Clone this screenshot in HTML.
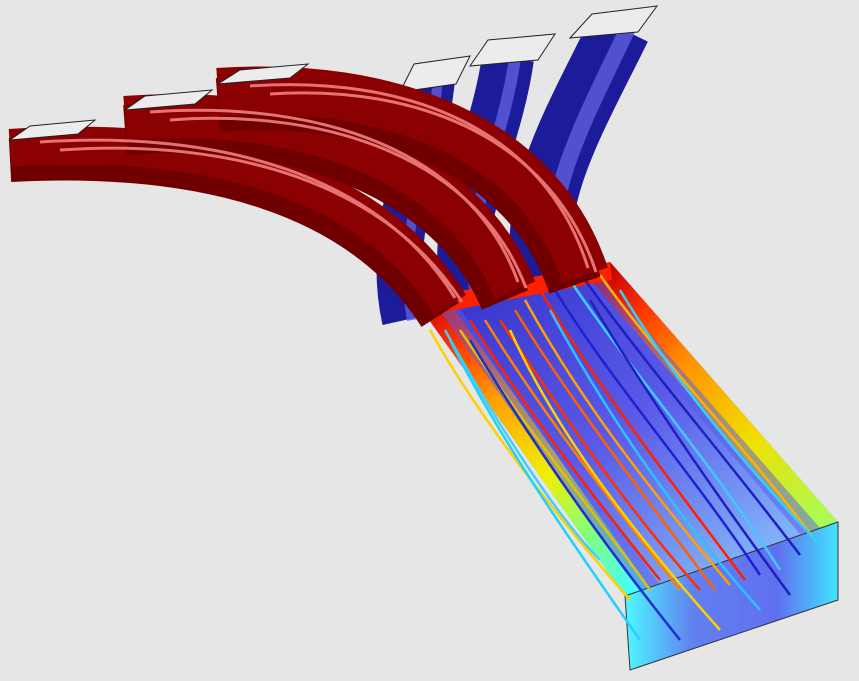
<!DOCTYPE html>
<html><head><meta charset="utf-8"><style>
html,body{margin:0;padding:0;background:#e6e6e6;}
svg{display:block;}
</style></head><body>
<svg width="859" height="681" viewBox="0 0 859 681">
<defs>
<linearGradient id="leftEdge" x1="415" y1="300" x2="625" y2="600" gradientUnits="userSpaceOnUse">
<stop offset="0" stop-color="#c00000"/><stop offset="0.15" stop-color="#ff3000"/><stop offset="0.35" stop-color="#ffa000"/><stop offset="0.6" stop-color="#f0f000"/><stop offset="0.8" stop-color="#80ff80"/><stop offset="1" stop-color="#40ffff"/>
</linearGradient>
<linearGradient id="rightEdge" x1="610" y1="265" x2="840" y2="525" gradientUnits="userSpaceOnUse">
<stop offset="0" stop-color="#c00000"/><stop offset="0.15" stop-color="#ff3000"/><stop offset="0.35" stop-color="#ff9000"/><stop offset="0.65" stop-color="#f0e000"/><stop offset="1" stop-color="#a0ff60"/>
</linearGradient>
<linearGradient id="faceFill" x1="500" y1="290" x2="720" y2="580" gradientUnits="userSpaceOnUse">
<stop offset="0" stop-color="#3a3ad0"/><stop offset="0.5" stop-color="#5a5ae8"/><stop offset="1" stop-color="#80b0f8"/>
</linearGradient>
<linearGradient id="frontFill" x1="630" y1="600" x2="840" y2="600" gradientUnits="userSpaceOnUse">
<stop offset="0" stop-color="#50f0ff"/><stop offset="0.3" stop-color="#6080f0"/><stop offset="0.7" stop-color="#6070f0"/><stop offset="1" stop-color="#40e8ff"/>
</linearGradient>
<linearGradient id="fadeL" x1="0" y1="0" x2="1" y2="0">
<stop offset="0" stop-color="#5a5ae8" stop-opacity="0"/><stop offset="1" stop-color="#5a5ae8" stop-opacity="1"/>
</linearGradient>
</defs>

<g>
<path d="M432,78 C425,160 385,230 405,320" stroke="#1c1c9a" stroke-width="46" fill="none"/>
<path d="M508,58 C495,150 445,230 470,300" stroke="#1c1c9a" stroke-width="52" fill="none"/>
<path d="M620,28 C575,120 525,200 545,285" stroke="#1c1c9a" stroke-width="62" fill="none"/>
<path d="M438,78 C432,160 395,230 412,320" stroke="#5a5ad8" stroke-width="10" fill="none" opacity="0.85"/>
<path d="M515,58 C502,150 456,230 478,300" stroke="#5a5ad8" stroke-width="12" fill="none" opacity="0.85"/>
<path d="M628,28 C585,120 538,200 556,285" stroke="#5a5ad8" stroke-width="16" fill="none" opacity="0.85"/>
<polygon points="400,92 414,64 470,56 456,84" fill="#ececec" stroke="#222" stroke-width="1"/>
<polygon points="470,66 488,40 555,34 538,60" fill="#ececec" stroke="#222" stroke-width="1"/>
<polygon points="570,38 592,14 657,6 638,32" fill="#ececec" stroke="#222" stroke-width="1"/>
</g>

<g>
<polygon points="415,300 610,262 838,522 625,596" fill="url(#faceFill)"/>
<polygon points="415,300 445,296 650,588 625,596" fill="url(#leftEdge)"/>
<polygon points="432,300 452,298 660,585 640,590" fill="#5a5ae8" opacity="0.5"/>
<polygon points="610,262 582,270 808,532 838,522" fill="url(#rightEdge)"/>
<polygon points="592,268 575,272 800,534 820,528" fill="#5a5ae8" opacity="0.5"/>
<polygon points="415,300 610,262 612,280 428,315" fill="#ff2000"/>
<polygon points="625,596 838,522 838,600 630,670" fill="url(#frontFill)" stroke="#333" stroke-width="1"/>
</g>

<g fill="none" stroke-width="2.5">
<path d="M430,330 C480,420 560,520 630,600" stroke="#ffd000"/>
<path d="M445,330 C500,430 560,520 600,560" stroke="#40d0ff"/>
<path d="M460,330 C520,420 600,520 650,590" stroke="#e0c000"/>
<path d="M470,320 C520,400 580,480 660,580" stroke="#ff2000"/>
<path d="M485,320 C540,410 610,500 680,590" stroke="#ff8000"/>
<path d="M500,320 C560,410 620,500 700,590" stroke="#ff3000"/>
<path d="M515,310 C570,400 640,490 715,590" stroke="#ff6000"/>
<path d="M525,300 C580,400 650,490 730,585" stroke="#ffa000"/>
<path d="M540,290 C600,390 670,480 745,580" stroke="#ff2000"/>
<path d="M555,290 C610,380 690,470 760,575" stroke="#2020d0"/>
<path d="M570,280 C630,370 710,460 780,570" stroke="#40c8ff"/>
<path d="M585,280 C650,370 720,450 800,555" stroke="#2020c0"/>
<path d="M600,275 C660,360 740,440 815,540" stroke="#ffb000"/>
<path d="M450,340 C500,440 570,540 640,640" stroke="#20d0ff"/>
<path d="M470,340 C530,440 600,540 680,640" stroke="#2030d0"/>
<path d="M510,330 C560,440 640,540 720,630" stroke="#ffd000"/>
<path d="M550,310 C610,420 680,520 760,610" stroke="#30c0ff"/>
<path d="M590,300 C650,400 720,500 790,595" stroke="#2020c0"/>
<path d="M620,290 C680,390 750,470 820,545" stroke="#30d0ff"/>
</g>

<g fill="none">
<path d="M10,160 C200,150 360,190 440,315" stroke="#700000" stroke-width="44"/>
<path d="M10,148 C200,135 370,175 450,305" stroke="#8b0000" stroke-width="38"/>
<path d="M125,130 C290,118 450,170 505,300" stroke="#700000" stroke-width="50"/>
<path d="M125,118 C300,105 460,158 515,290" stroke="#8b0000" stroke-width="44"/>
<path d="M218,105 C380,92 530,150 575,285" stroke="#700000" stroke-width="54"/>
<path d="M218,92 C390,80 540,138 585,275" stroke="#8b0000" stroke-width="48"/>
<g stroke="#f08080" stroke-width="3" opacity="0.9">
<path d="M40,142 C220,130 380,175 455,298"/>
<path d="M60,150 C230,138 385,182 462,302"/>
<path d="M150,112 C320,100 470,150 518,282"/>
<path d="M170,120 C330,108 478,160 526,288"/>
<path d="M250,86 C410,75 545,130 588,268"/>
<path d="M270,94 C420,84 552,140 596,272"/>
</g>
<polygon points="10,140 30,126 95,120 78,134" fill="#ececec" stroke="#222" stroke-width="1"/>
<polygon points="125,110 145,96 212,90 195,104" fill="#ececec" stroke="#222" stroke-width="1"/>
<polygon points="218,84 240,70 308,64 290,78" fill="#ececec" stroke="#222" stroke-width="1"/>
</g>
</svg>
</body></html>
